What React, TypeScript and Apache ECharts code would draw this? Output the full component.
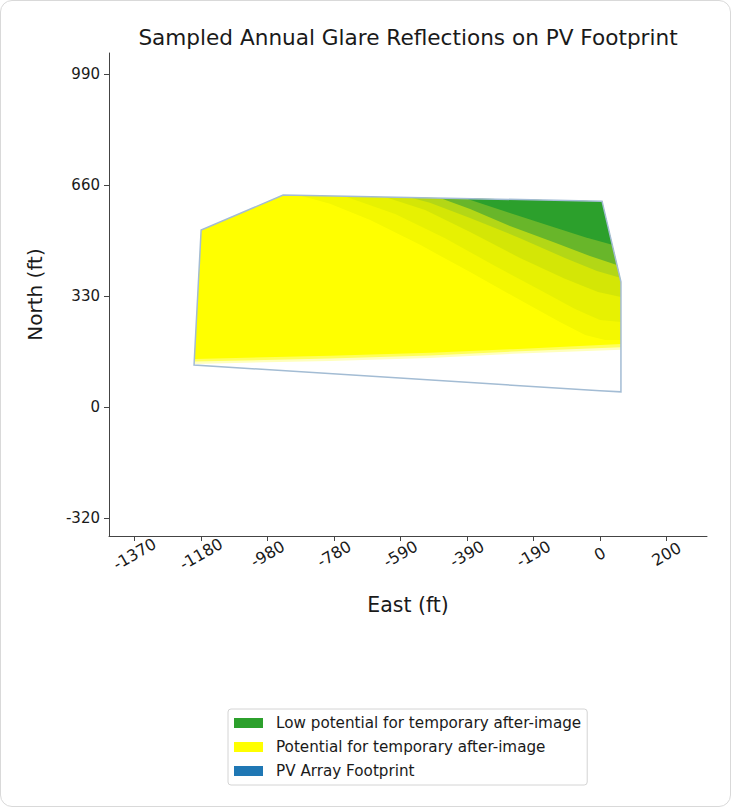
import React, { useEffect, useRef } from "react";
import * as echarts from "echarts";

// Tick positions (ft) and their printed labels
const xTickValues = [-1379, -1182, -985, -788, -591, -394, -197, 0, 197];
const xTickLabels = ["-1370", "-1180", "-980", "-780", "-590", "-390", "-190", "0", "200"];
const yTickValues = [-330, 0, 330, 660, 990];
const yTickLabels = ["-320", "0", "330", "660", "990"];

// PV array footprint outline (East ft, North ft)
const footprint: number[][] = [
  [-1203, 125], [-1182, 526], [-939, 630], [6, 612], [62, 372], [62, 45], [0, 48],
];

// Glare contour bands (East ft, North ft)
const potentialBands: number[][][] = [
  footprint,
  [[-889, 629], [6, 612], [62, 372], [62, 199], [15, 199], [-44, 214], [-119, 253], [-237, 318], [-385, 401], [-533, 482], [-681, 556], [-800, 604]],
  [[-755, 626], [6, 612], [62, 372], [62, 253], [0, 259], [-74, 291], [-178, 348], [-311, 419], [-459, 502], [-607, 574]],
  [[-637, 624], [6, 612], [62, 372], [62, 327], [-6, 342], [-104, 381], [-237, 443], [-385, 520], [-518, 586]],
  [[-1202, 143], [-800, 152], [-504, 161], [-258, 172], [62, 187], [62, 45], [0, 48], [-1203, 125]],
  [[-1202, 135], [-800, 144], [-504, 153], [-258, 165], [62, 178], [62, 45], [0, 48], [-1203, 125]],
  [[-1202, 128], [-800, 137], [-504, 146], [-258, 158], [62, 170], [62, 45], [0, 48], [-1203, 125]],
];
const lowBands: number[][][] = [
  [[-563, 623], [6, 612], [60, 384], [-9, 404], [-104, 443], [-237, 502], [-385, 562], [-504, 607]],
  [[-474, 621], [6, 612], [50, 422], [-30, 449], [-133, 488], [-267, 538], [-385, 589]],
  [[-397, 620], [6, 612], [36, 482], [-44, 505], [-148, 538], [-267, 577]],
];

const potentialFills = [
  "#ffff00", "#f4f800", "#e7f102", "#d4e606",
  "rgba(255,255,255,0.35)", "rgba(255,255,255,0.6)", "#ffffff",
];
const lowFills = ["#b3d716", "#68b62a", "#2ca02c"];

const LOW = "Low potential for temporary after-image";
const POT = "Potential for temporary after-image";
const PV = "PV Array Footprint";

const FONT = "DejaVu Sans";

function bandRenderer(polys: number[][][], fills: string[]) {
  return (params: any, api: any) => {
    const i = params.dataIndex;
    const pts = polys[i].map((p) => api.coord(p));
    return {
      type: "polygon",
      shape: { points: pts },
      style: { fill: fills[i], stroke: "none" },
      silent: true,
    };
  };
}

function labelFor(values: number[], labels: string[]) {
  return (v: number) => {
    const k = values.findIndex((t) => Math.abs(t - v) < 0.5);
    return k >= 0 ? labels[k] : "";
  };
}

export default function App() {
  const ref = useRef<HTMLDivElement>(null);
  useEffect(() => {
    document.body.style.margin = "0";
    const chart = echarts.init(ref.current!, null, { renderer: "svg" });
    const axisColor = "#444";
    chart.setOption({
      animation: false,
      textStyle: { fontFamily: FONT },
      graphic: [
        {
          type: "text",
          x: 408,
          y: 37,
          style: {
            text: "Sampled Annual Glare Reflections on PV Footprint",
            fontFamily: FONT,
            fontSize: 21.6,
            fill: "#1a1a1a",
            align: "center",
            verticalAlign: "middle",
          },
        },
      ],
      grid: { left: 109, right: 24, top: 53, bottom: 271, containLabel: false },
      xAxis: {
        type: "value",
        min: -1455,
        max: 317,
        name: "East (ft)",
        nameLocation: "middle",
        nameGap: 58,
        nameTextStyle: { fontFamily: FONT, fontSize: 20.5, color: "#1a1a1a" },
        axisLine: { show: true, onZero: false, lineStyle: { color: axisColor, width: 1 } },
        axisTick: { show: true, length: 5, customValues: xTickValues, lineStyle: { color: axisColor } },
        axisLabel: {
          customValues: xTickValues,
          formatter: labelFor(xTickValues, xTickLabels),
          rotate: 30,
          align: "center",
          verticalAlign: "middle",
          margin: 18,
          fontSize: 16,
          fontFamily: FONT,
          color: "#1a1a1a",
        },
        splitLine: { show: false },
      },
      yAxis: {
        type: "value",
        min: -383.5,
        max: 1052.4,
        name: "North (ft)",
        nameLocation: "middle",
        nameGap: 64,
        nameTextStyle: { fontFamily: FONT, fontSize: 20, color: "#1a1a1a" },
        axisLine: { show: true, onZero: false, lineStyle: { color: axisColor, width: 1 } },
        axisTick: { show: true, length: 5, customValues: yTickValues, lineStyle: { color: axisColor } },
        axisLabel: {
          customValues: yTickValues,
          formatter: labelFor(yTickValues, yTickLabels),
          margin: 9,
          fontSize: 15,
          fontFamily: FONT,
          color: "#1a1a1a",
        },
        splitLine: { show: false },
      },
      legend: {
        orient: "vertical",
        left: 228,
        top: 709,
        padding: [6, 6, 6, 6],
        itemGap: 8,
        itemWidth: 29,
        itemHeight: 10,
        borderColor: "#d4d4d4",
        borderWidth: 1,
        borderRadius: 3,
        backgroundColor: "#fff",
        selectedMode: false,
        textStyle: { fontFamily: FONT, fontSize: 15.2, color: "#1a1a1a", lineHeight: 16, padding: [0, 0, 0, 8] },
        data: [
          { name: LOW, icon: "rect", itemStyle: { color: "#2ca02c" } },
          { name: POT, icon: "rect", itemStyle: { color: "#ffff00" } },
          { name: PV, icon: "rect", itemStyle: { color: "#1f77b4" } },
        ],
      },
      series: [
        {
          name: POT,
          type: "custom",
          coordinateSystem: "cartesian2d",
          itemStyle: { color: "#ffff00" },
          renderItem: bandRenderer(potentialBands, potentialFills),
          data: potentialBands.map((p) => p[0]),
          clip: false,
          z: 1,
        },
        {
          name: LOW,
          type: "custom",
          coordinateSystem: "cartesian2d",
          itemStyle: { color: "#2ca02c" },
          renderItem: bandRenderer(lowBands, lowFills),
          data: lowBands.map((p) => p[0]),
          clip: false,
          z: 2,
        },
        {
          name: PV,
          type: "custom",
          coordinateSystem: "cartesian2d",
          itemStyle: { color: "#1f77b4" },
          renderItem: (params: any, api: any) => {
            const pts = footprint.map((p) => api.coord(p));
            return {
              type: "polygon",
              shape: { points: pts },
              style: { fill: "none", stroke: "#a3bcd4", lineWidth: 1.5 },
              silent: true,
            };
          },
          data: [footprint[0]],
          clip: false,
          z: 3,
        },
      ],
    });
    return () => chart.dispose();
  }, []);
  return (
    <div style={{ position: "relative", width: 731, height: 807, background: "#fff" }}>
      <div ref={ref} style={{ position: "absolute", left: 0, top: 0, width: 731, height: 807 }} />
      <div
        style={{
          position: "absolute",
          left: 0,
          top: 0,
          width: 731,
          height: 807,
          boxSizing: "border-box",
          border: "1.5px solid #d9d9d9",
          borderRadius: 12,
          pointerEvents: "none",
        }}
      />
    </div>
  );
}
